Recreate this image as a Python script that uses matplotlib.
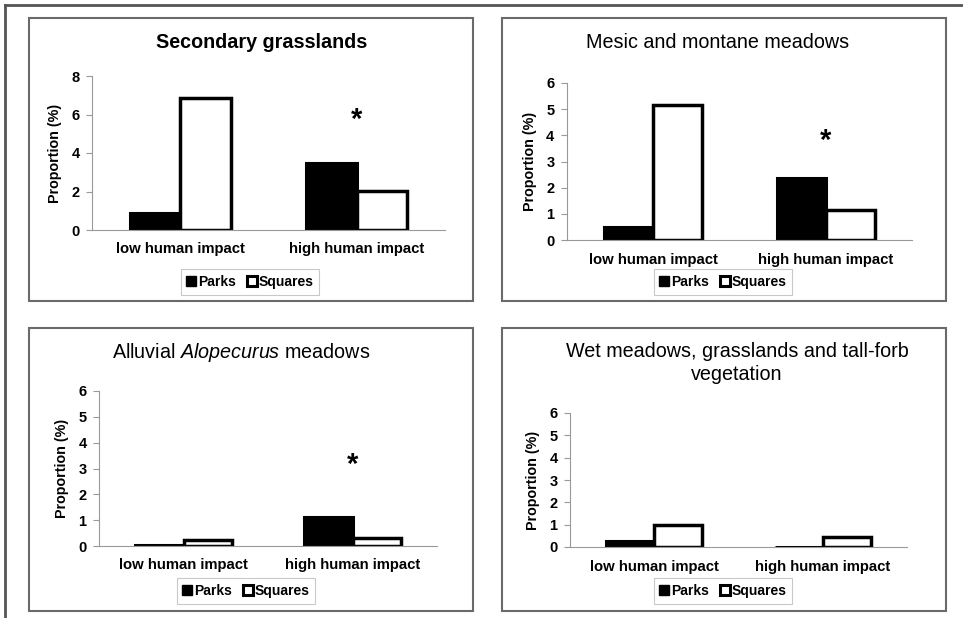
import matplotlib
matplotlib.use('Agg')
import matplotlib.pyplot as plt
from matplotlib.patches import Rectangle
from matplotlib.lines import Line2D

plt.rcParams['font.family'] = ['Liberation Sans', 'DejaVu Sans']
plt.rcParams['mathtext.fontset'] = 'custom'
plt.rcParams['mathtext.rm'] = 'Liberation Sans'
plt.rcParams['mathtext.it'] = 'Liberation Sans:italic'

# Data
categories = ['low human impact', 'high human impact']
titles = ['Secondary grasslands',
          'Mesic and montane meadows',
          'Alluvial $\\mathit{Alopecurus}$ meadows',
          'Wet meadows, grasslands and tall-forb\nvegetation']
parks = [[0.88, 3.5], [0.5, 2.37], [0.05, 1.12], [0.25, 0.02]]
squares = [[6.87, 2.03], [5.15, 1.15], [0.25, 0.31], [0.98, 0.45]]
ymax = [8, 6, 6, 6]
ystep = [2, 1, 1, 1]
star_y = [5.7, 3.8, 3.15, None]

W, H = 963, 618
fig = plt.figure(figsize=(W / 100, H / 100), dpi=100)

def fx(px):
    return px / W

def fy(py):
    return 1 - py / H

# outer frame (top and left only visible)
fig.add_artist(Line2D([fx(5), fx(963)], [fy(4.5), fy(4.5)], color='#555555', lw=2))
fig.add_artist(Line2D([fx(5), fx(5)], [fy(4.5), fy(618)], color='#555555', lw=2))

# panel boxes: left, top, right, bottom in pixels
boxes = [(29, 18, 473, 301), (502, 18, 946, 301), (29, 328, 473, 611), (502, 328, 946, 611)]
# axes: left, top, right, bottom in pixels
axpos = [(92, 76, 445, 230), (567, 83, 912, 240), (99, 391, 437, 546), (570, 413, 907, 547)]
title_pos = [(262, 42), (718, 42), (241, 352), (737, 363)]
title_bold = [True, False, False, False]
legend_pos = [(250, 282), (723, 282), (246, 591), (723, 591)]

for i in range(4):
    l, t, r, b = boxes[i]
    fig.add_artist(Rectangle((fx(l), fy(b)), fx(r - l), (b - t) / H,
                             fill=False, edgecolor='#6a6a6a', lw=1.5))

    l, t, r, b = axpos[i]
    ax = fig.add_axes([fx(l), fy(b), fx(r - l), (b - t) / H])
    x = range(len(categories))
    w = 0.285
    ax.bar([v - w / 2 for v in x], parks[i], width=w, color='black',
           edgecolor='black', lw=2.2, label='Parks')
    ax.bar([v + w / 2 for v in x], squares[i], width=w, color='white',
           edgecolor='black', lw=2.5, label='Squares')
    ax.set_xlim(-0.5, 1.5)
    ax.set_ylim(0, ymax[i])
    ax.set_yticks(range(0, ymax[i] + 1, ystep[i]))
    ax.set_xticks(list(x))
    ax.set_xticklabels(categories, fontsize=10.7, fontweight='bold')
    ax.tick_params(axis='x', length=0, pad=9)
    ax.tick_params(axis='y', length=4, width=0.8, color='#999999', labelsize=10.5, pad=5)
    for lab in ax.get_yticklabels():
        lab.set_fontweight('bold')
    ax.spines['top'].set_visible(False)
    ax.spines['right'].set_visible(False)
    ax.spines['left'].set_color('#999999')
    ax.spines['bottom'].set_color('#999999')
    ax.spines['left'].set_linewidth(0.8)
    ax.spines['bottom'].set_linewidth(0.8)
    ax.set_ylabel('Proportion (%)', fontsize=10.3, fontweight='bold', labelpad=7)
    ax.patch.set_visible(False)

    if star_y[i] is not None:
        ax.text(1, star_y[i], '*', ha='center', va='center', fontsize=21, fontweight='bold')

    tx, ty = title_pos[i]
    fig.text(fx(tx), fy(ty), titles[i], ha='center', va='center',
             fontsize=14.2, fontweight='bold' if title_bold[i] else 'normal',
             linespacing=1.3)

    handles = [Line2D([], [], marker='s', ls='none', markersize=7, markerfacecolor='black',
                      markeredgecolor='black'),
               Line2D([], [], marker='s', ls='none', markersize=7, markerfacecolor='white',
                      markeredgecolor='black', markeredgewidth=2.2)]
    lx, ly = legend_pos[i]
    leg = fig.legend(handles, ['Parks', 'Squares'], loc='center', bbox_to_anchor=(fx(lx), fy(ly)),
                     ncol=2, frameon=True, fancybox=False, edgecolor='#bbbbbb',
                     prop={'weight': 'bold', 'size': 10}, handlelength=0.7, handletextpad=0.15,
                     columnspacing=0.8, borderpad=0.4)
    leg.get_frame().set_linewidth(0.8)

fig.savefig('out.png', dpi=100)
